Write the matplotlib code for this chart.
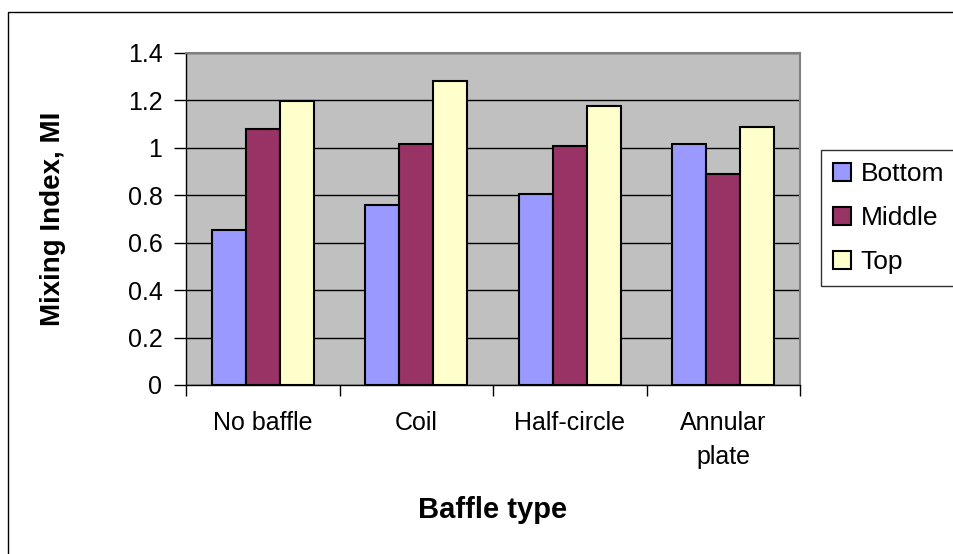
import numpy as np
import matplotlib.pyplot as plt
from matplotlib.patches import Rectangle

plt.rcParams['font.family'] = ['Liberation Sans', 'DejaVu Sans']

# Dados do gráfico
categorias = ["No baffle", "Coil", "Half-circle", "Annular\nplate"]
series = ["Bottom", "Middle", "Top"]
bottom = [0.655, 0.757, 0.806, 1.017]
middle = [1.079, 1.017, 1.008, 0.890]
top = [1.196, 1.280, 1.178, 1.086]
cores = ["#9999FF", "#993366", "#FFFFCC"]

valores = [bottom, middle, top]

fig = plt.figure(figsize=(9.54, 5.54), dpi=100)
ax = fig.add_axes([186 / 954, 1 - 385 / 554, (800 - 186) / 954, (385 - 53) / 554])
ax.set_facecolor("#C0C0C0")

# Barras agrupadas (estilo Excel, gap de 150%)
x = np.arange(len(categorias))
largura = 1 / 4.5
for j, (nome, vals) in enumerate(zip(series, valores)):
    ax.bar(x + (j - 1) * largura, vals, largura, color=cores[j],
           edgecolor="black", linewidth=1.5, label=nome, zorder=3)

ax.set_xlim(-0.5, len(categorias) - 0.5)
ax.set_ylim(0, 1.4)
ax.set_yticks(np.arange(0, 1.41, 0.2))
ax.set_yticklabels(["0", "0.2", "0.4", "0.6", "0.8", "1", "1.2", "1.4"])
ax.yaxis.grid(True, color="black", linewidth=1)
ax.set_axisbelow(True)

ax.set_xticks(x)
ax.set_xticklabels(categorias, linespacing=1.5)
ax.set_xticks(np.arange(-0.5, len(categorias)), minor=True)
ax.tick_params(axis="x", which="major", length=0, pad=19, labelsize=18)
ax.tick_params(axis="x", which="minor", length=8, width=1, direction="out")
ax.tick_params(axis="y", length=9, width=1, pad=8, labelsize=18)

for lado in ["top", "right"]:
    ax.spines[lado].set_color("#808080")
    ax.spines[lado].set_linewidth(1.5)
for lado in ["left", "bottom"]:
    ax.spines[lado].set_color("black")
    ax.spines[lado].set_linewidth(1)

fig.text(53 / 954, 1 - 219 / 554, "Mixing Index, MI", rotation=90,
         ha="center", va="center", fontsize=20, fontweight="bold")
fig.text(493 / 954, 1 - 510 / 554, "Baffle type",
         ha="center", va="center", fontsize=21, fontweight="bold")

leg = fig.legend(loc="center left", bbox_to_anchor=(821 / 954, 1 - 218 / 554),
                 fontsize=19, frameon=True, fancybox=False, borderpad=0.44,
                 handlelength=0.68, handleheight=0.68, handletextpad=0.38,
                 labelspacing=0.76, borderaxespad=0)
leg.get_frame().set_edgecolor("black")
leg.get_frame().set_linewidth(1)

# Moldura externa do gráfico
fig.patches.append(Rectangle((8.5 / 954, -0.1), 1.2, 1.1 - 12 / 554,
                             transform=fig.transFigure, fill=False,
                             edgecolor="black", linewidth=1))

fig.savefig("out.png", dpi=100)
